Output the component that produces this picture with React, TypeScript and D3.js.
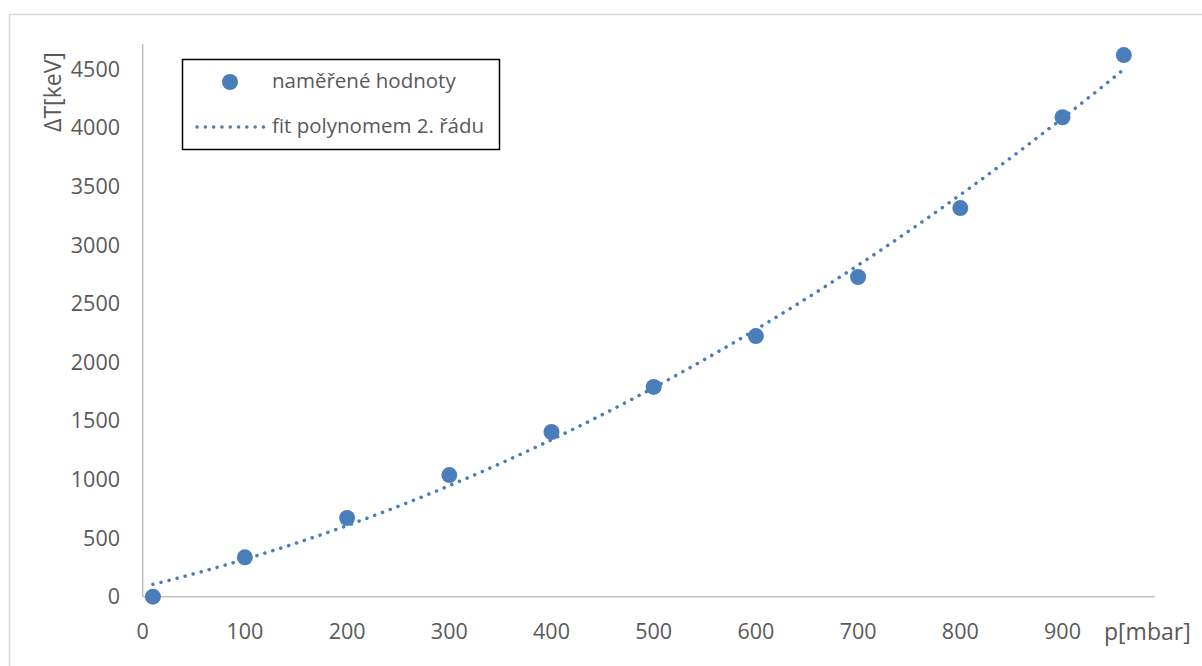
import React, { useEffect, useRef } from "react";
import * as d3 from "d3";

// measured values
const pressure = [10, 100, 200, 300, 400, 500, 600, 700, 800, 900, 960];
const deltaT = [0, 336, 671, 1037, 1404, 1788, 2222, 2725, 3313, 4087, 4617];
const xTicks = [0, 100, 200, 300, 400, 500, 600, 700, 800, 900];
const yTicks = [0, 500, 1000, 1500, 2000, 2500, 3000, 3500, 4000, 4500];
const legendLabels = ["naměřené hodnoty", "fit polynomem 2. řádu"];

// least squares quadratic fit of the data
const fitQuadratic = (xs: number[], ys: number[]) => {
  const n = xs.length;
  let s = [0, 0, 0, 0, 0];
  let t = [0, 0, 0];
  for (let i = 0; i < n; i++) {
    for (let k = 0; k < 5; k++) s[k] += Math.pow(xs[i], k);
    for (let k = 0; k < 3; k++) t[k] += ys[i] * Math.pow(xs[i], k);
  }
  const m = [
    [s[0], s[1], s[2], t[0]],
    [s[1], s[2], s[3], t[1]],
    [s[2], s[3], s[4], t[2]],
  ];
  for (let c = 0; c < 3; c++) {
    for (let r = c + 1; r < 3; r++) {
      const f = m[r][c] / m[c][c];
      for (let k = c; k < 4; k++) m[r][k] -= f * m[c][k];
    }
  }
  const coef = [0, 0, 0];
  for (let r = 2; r >= 0; r--) {
    let v = m[r][3];
    for (let k = r + 1; k < 3; k++) v -= m[r][k] * coef[k];
    coef[r] = v / m[r][r];
  }
  return (x: number) => coef[0] + coef[1] * x + coef[2] * x * x;
};

const width = 1202;
const height = 666;
const font = "'Open Sans', sans-serif";
const textColor = "#595959";
const blue = "#4a7ebb";

const App = () => {
  const ref = useRef<SVGSVGElement>(null);

  useEffect(() => {
    const svg = d3.select(ref.current);
    svg.selectAll("*").remove();

    const x = d3.scaleLinear().domain([0, 900]).range([142.7, 1062.5]);
    const y = d3.scaleLinear().domain([0, 4500]).range([596.7, 68.8]);

    // outer frame
    svg
      .append("rect")
      .attr("x", 9.5)
      .attr("y", 14.5)
      .attr("width", 1200)
      .attr("height", 700)
      .attr("fill", "white")
      .attr("stroke", "#d9d9d9")
      .attr("stroke-width", 1.5);

    // axes lines
    svg
      .append("line")
      .attr("x1", x(0))
      .attr("x2", x(0))
      .attr("y1", 44)
      .attr("y2", y(0))
      .attr("stroke", "#bfbfbf")
      .attr("stroke-width", 1.5);
    svg
      .append("line")
      .attr("x1", x(0))
      .attr("x2", 1155)
      .attr("y1", y(0))
      .attr("y2", y(0))
      .attr("stroke", "#bfbfbf")
      .attr("stroke-width", 1.5);

    // tick labels
    svg
      .append("g")
      .selectAll("text")
      .data(yTicks)
      .join("text")
      .attr("x", 120)
      .attr("y", (d) => y(d))
      .attr("dy", "0.36em")
      .attr("text-anchor", "end")
      .attr("font-family", font)
      .attr("font-size", 21.5)
      .attr("fill", textColor)
      .text((d) => d);

    svg
      .append("g")
      .selectAll("text")
      .data(xTicks)
      .join("text")
      .attr("x", (d) => x(d))
      .attr("y", 631)
      .attr("dy", "0.36em")
      .attr("text-anchor", "middle")
      .attr("font-family", font)
      .attr("font-size", 21.5)
      .attr("fill", textColor)
      .text((d) => d);

    // axis titles
    svg
      .append("text")
      .attr("transform", "translate(53,92) rotate(-90)")
      .attr("dy", "0.36em")
      .attr("text-anchor", "middle")
      .attr("font-family", font)
      .attr("font-size", 23)
      .attr("fill", textColor)
      .text("ΔT[keV]");
    svg
      .append("text")
      .attr("x", 1104)
      .attr("y", 632)
      .attr("dy", "0.36em")
      .attr("font-family", font)
      .attr("font-size", 23)
      .attr("fill", textColor)
      .text("p[mbar]");

    // fit curve
    const fit = fitQuadratic(pressure, deltaT);
    const [x0, x1] = d3.extent(pressure) as [number, number];
    const curve = d3.range(x0, x1 + 0.01, (x1 - x0) / 200).map((p) => [p, fit(p)]);
    svg
      .append("path")
      .datum(curve)
      .attr("fill", "none")
      .attr("stroke", blue)
      .attr("stroke-width", 3.5)
      .attr("stroke-linecap", "round")
      .attr("stroke-dasharray", "0.1 8.2")
      .attr(
        "d",
        d3
          .line<number[]>()
          .x((d) => x(d[0]))
          .y((d) => y(d[1]))
      );

    // points
    svg
      .append("g")
      .selectAll("circle")
      .data(pressure)
      .join("circle")
      .attr("cx", (d) => x(d))
      .attr("cy", (d, i) => y(deltaT[i]))
      .attr("r", 8)
      .attr("fill", blue);

    // legend
    const lg = svg.append("g");
    lg.append("rect")
      .attr("x", 182.5)
      .attr("y", 59.5)
      .attr("width", 317)
      .attr("height", 90)
      .attr("fill", "white")
      .attr("stroke", "black")
      .attr("stroke-width", 1.5);
    lg.append("circle").attr("cx", 230).attr("cy", 82).attr("r", 8).attr("fill", blue);
    lg.append("line")
      .attr("x1", 197)
      .attr("x2", 264)
      .attr("y1", 127)
      .attr("y2", 127)
      .attr("stroke", blue)
      .attr("stroke-width", 3.5)
      .attr("stroke-linecap", "round")
      .attr("stroke-dasharray", "0.1 8.2");
    lg.selectAll("text.lbl")
      .data(legendLabels)
      .join("text")
      .attr("class", "lbl")
      .attr("x", 272)
      .attr("y", (d, i) => (i === 0 ? 81 : 126))
      .attr("dy", "0.36em")
      .attr("font-family", font)
      .attr("font-size", 20.5)
      .attr("fill", textColor)
      .text((d) => d);
  }, []);

  return (
    <svg
      ref={ref}
      width={width}
      height={height}
      style={{ position: "absolute", left: 0, top: 0, display: "block" }}
    />
  );
};

export default App;
